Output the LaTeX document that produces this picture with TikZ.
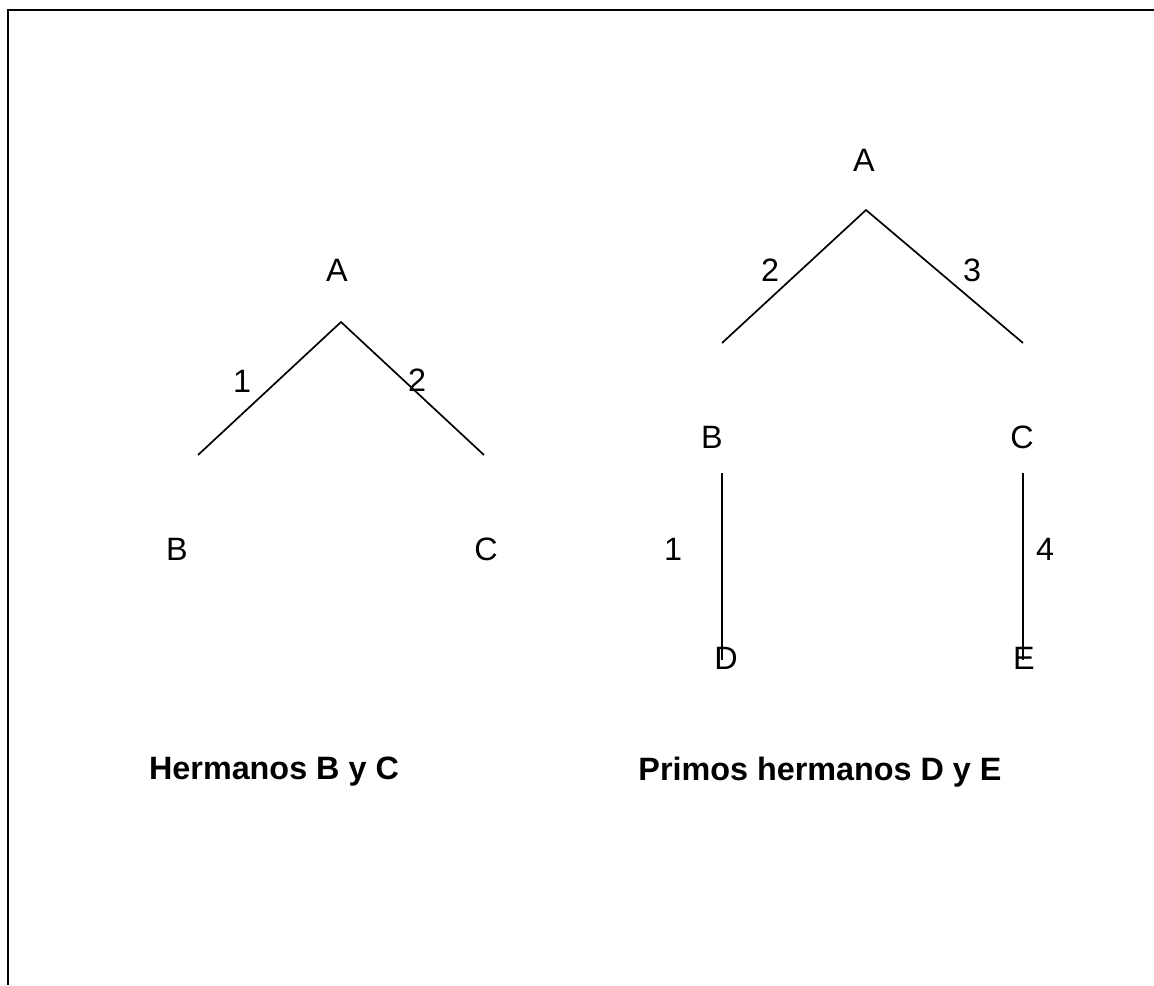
\documentclass[tikz,border=0pt]{standalone}
\usepackage{fontspec}
\setmainfont{Liberation Sans}
\usepackage{tikz}

\begin{document}
\begin{tikzpicture}[x=0.025cm,y=-0.025cm]
\tikzstyle{every node}=[inner sep=0pt,font=\fontsize{23}{27}\selectfont];
\tikzstyle{rama}=[draw,line width=1.2pt];
\tikzstyle{titulo}=[font=\fontsize{23}{27}\selectfont\bfseries];
\useasboundingbox (0,0) rectangle (1154,985);
% marco
\draw[line width=2pt] (1154,10) -- (8,10) -- (8,985);

% hermanos
\node (a1) at (337,270) {A};
\node (b1) at (177,549) {B};
\node (c1) at (486,549) {C};
\node (n1) at (242,381) {1};
\node (n2) at (417,380) {2};
\coordinate (p1) at (341,322);
\coordinate (p1b) at (198,455);
\coordinate (p1c) at (484,455);
\draw[rama] (p1b) -- (p1) -- (p1c);
\node[titulo] (t1) at (274,772) {Hermanos B y C};

% primos hermanos
\node (a2) at (864,160) {A};
\node (b2) at (712,437) {B};
\node (c2) at (1022,437) {C};
\node (d2) at (726,658) {D};
\node (e2) at (1024,658) {E};
\node (m2) at (770,270) {2};
\node (m3) at (972,270) {3};
\node (m1) at (673,549) {1};
\node (m4) at (1045,549) {4};
\coordinate (p2) at (866,210);
\coordinate (p2b) at (722,343);
\coordinate (p2c) at (1023,343);
\coordinate (q2b) at (722,473);
\coordinate (q2d) at (722,660);
\coordinate (q2c) at (1023,473);
\coordinate (q2e) at (1023,660);
\draw[rama] (p2b) -- (p2) -- (p2c);
\draw[rama] (q2b) -- (q2d);
\draw[rama] (q2c) -- (q2e);
\node[titulo] (t2) at (820,772) {Primos hermanos D y E};
\end{tikzpicture}
\end{document}
